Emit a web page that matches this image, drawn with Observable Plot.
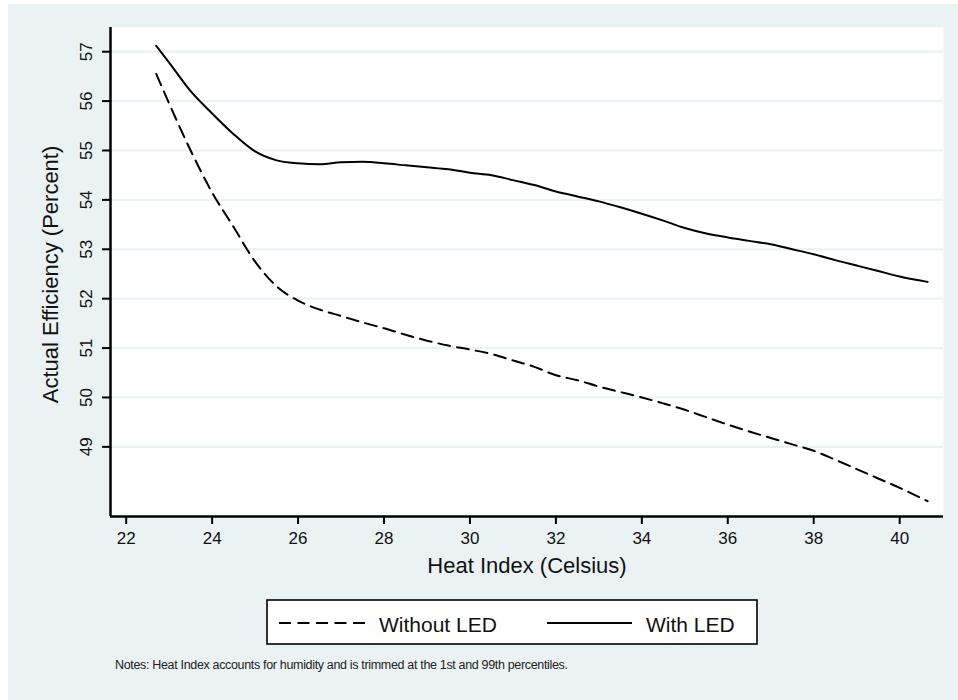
<!DOCTYPE html>
<html>
<head>
<meta charset="utf-8">
<script src="https://cdn.jsdelivr.net/npm/d3@7"></script>
<script src="https://cdn.jsdelivr.net/npm/@observablehq/plot@0.6"></script>
<style>
  html, body { margin: 0; padding: 0; background: #ffffff; }
  #panel { position: absolute; left: 8px; top: 4px; width: 950px; height: 696px; background: #EAF2F3; overflow: hidden; }
  #panel svg { display: block; font-family: "Liberation Sans", Arial, Helvetica, sans-serif; }
</style>
</head>
<body>
<div id="panel"></div>
<script>
// ---- data ----
const heatIndex = [22.7, 23.0, 23.5, 24.0, 24.5, 25.0, 25.5, 26.0, 26.5, 27.0, 27.5, 28.0, 28.5, 29.0, 29.5, 30.0, 30.5, 31.0, 31.5, 32.0, 32.5, 33.0, 33.5, 34.0, 34.5, 35.0, 35.5, 36.0, 36.5, 37.0, 37.5, 38.0, 38.5, 39.0, 39.5, 40.0, 40.65];
const withLED = [57.12, 56.78, 56.2, 55.75, 55.33, 54.98, 54.8, 54.74, 54.72, 54.76, 54.77, 54.74, 54.7, 54.66, 54.62, 54.55, 54.5, 54.4, 54.3, 54.17, 54.07, 53.97, 53.85, 53.72, 53.58, 53.43, 53.32, 53.24, 53.17, 53.1, 53.0, 52.9, 52.78, 52.67, 52.56, 52.45, 52.34];
const withoutLED = [56.55, 55.95, 55.0, 54.15, 53.45, 52.75, 52.25, 51.96, 51.78, 51.65, 51.52, 51.4, 51.27, 51.15, 51.05, 50.97, 50.88, 50.75, 50.62, 50.45, 50.35, 50.22, 50.11, 50.0, 49.88, 49.75, 49.6, 49.45, 49.31, 49.18, 49.05, 48.92, 48.74, 48.55, 48.36, 48.17, 47.9];
const xTicks = [22, 24, 26, 28, 30, 32, 34, 36, 38, 40];
const yTicks = [49, 50, 51, 52, 53, 54, 55, 56, 57];
const seriesNames = ["Without LED", "With LED"];
const xTitle = "Heat Index (Celsius)";
const yTitle = "Actual Efficiency (Percent)";
const notes = "Notes: Heat Index accounts for humidity and is trimmed at the 1st and 99th percentiles.";

const rows = [];
heatIndex.forEach((h, i) => {
  rows.push({x: h, y: withoutLED[i], s: seriesNames[0]});
  rows.push({x: h, y: withLED[i], s: seriesNames[1]});
});

const bg = "#EAF2F3";
const ink = "#111";
const chart = Plot.plot({
  width: 950,
  height: 590,
  marginLeft: 102,
  marginRight: 15,
  marginTop: 23,
  marginBottom: 78,
  style: {background: "transparent", fontFamily: "'Liberation Sans', Arial, sans-serif"},
  x: {domain: [21.635, 41.02]},
  y: {domain: [47.59, 57.49]},
  marks: [
    Plot.frame({fill: "white", stroke: null}),
    Plot.ruleY(yTicks, {stroke: bg, strokeWidth: 2.2}),
    Plot.lineY(rows.filter(d => d.s === seriesNames[0]), {x: "x", y: "y", stroke: "black", strokeWidth: 2, strokeDasharray: "12,7", curve: "monotone-x"}),
    Plot.lineY(rows.filter(d => d.s === seriesNames[1]), {x: "x", y: "y", stroke: "black", strokeWidth: 2, curve: "monotone-x"}),
    Plot.axisX({ticks: xTicks, tickSize: 8, tickPadding: 7, strokeWidth: 2, fontSize: 17, fill: ink, label: null}),
    Plot.axisY({ticks: yTicks, tickSize: 8, strokeWidth: 2, tickFormat: () => "", label: null}),
    Plot.text(yTicks, {y: d => d, text: d => String(d), frameAnchor: "left", dx: -24, rotate: -90, textAnchor: "middle", fontSize: 17, fill: ink}),
    Plot.ruleX([0], {x: () => 21.635, strokeWidth: 2.5, stroke: "black"}),
    Plot.ruleY([0], {y: () => 47.59, strokeWidth: 2.5, stroke: "black"}),
    Plot.text([yTitle], {frameAnchor: "left", dx: -60, dy: 2.5, rotate: -90, textAnchor: "middle", fontSize: 22, fill: ink}),
    Plot.text([xTitle], {frameAnchor: "bottom", dy: 56, textAnchor: "middle", fontSize: 22, fill: ink})
  ]
});
document.getElementById("panel").appendChild(chart);

// legend + notes below the chart (container y offset 590)
const leg = d3.create("svg").attr("width", 950).attr("height", 106);
const g = leg.append("g").attr("transform", "translate(259,6)");
g.append("rect").attr("x", 0).attr("y", 0).attr("width", 490).attr("height", 44)
  .attr("fill", "white").attr("stroke", "black").attr("stroke-width", 1.6);
g.append("line").attr("x1", 12).attr("x2", 98).attr("y1", 23).attr("y2", 23)
  .attr("stroke", "black").attr("stroke-width", 2).attr("stroke-dasharray", "12,6.5");
g.append("text").attr("x", 112).attr("y", 31.5).attr("font-size", 21).attr("fill", ink).text(seriesNames[0]);
g.append("line").attr("x1", 280).attr("x2", 365).attr("y1", 23).attr("y2", 23)
  .attr("stroke", "black").attr("stroke-width", 2);
g.append("text").attr("x", 379).attr("y", 31.5).attr("font-size", 21).attr("fill", ink).text(seriesNames[1]);
leg.append("text").attr("x", 107).attr("y", 74.5).attr("font-size", 12.5)
  .attr("textLength", 453).attr("lengthAdjust", "spacing").attr("fill", "#222").text(notes);
document.getElementById("panel").appendChild(leg.node());
</script>
</body>
</html>
